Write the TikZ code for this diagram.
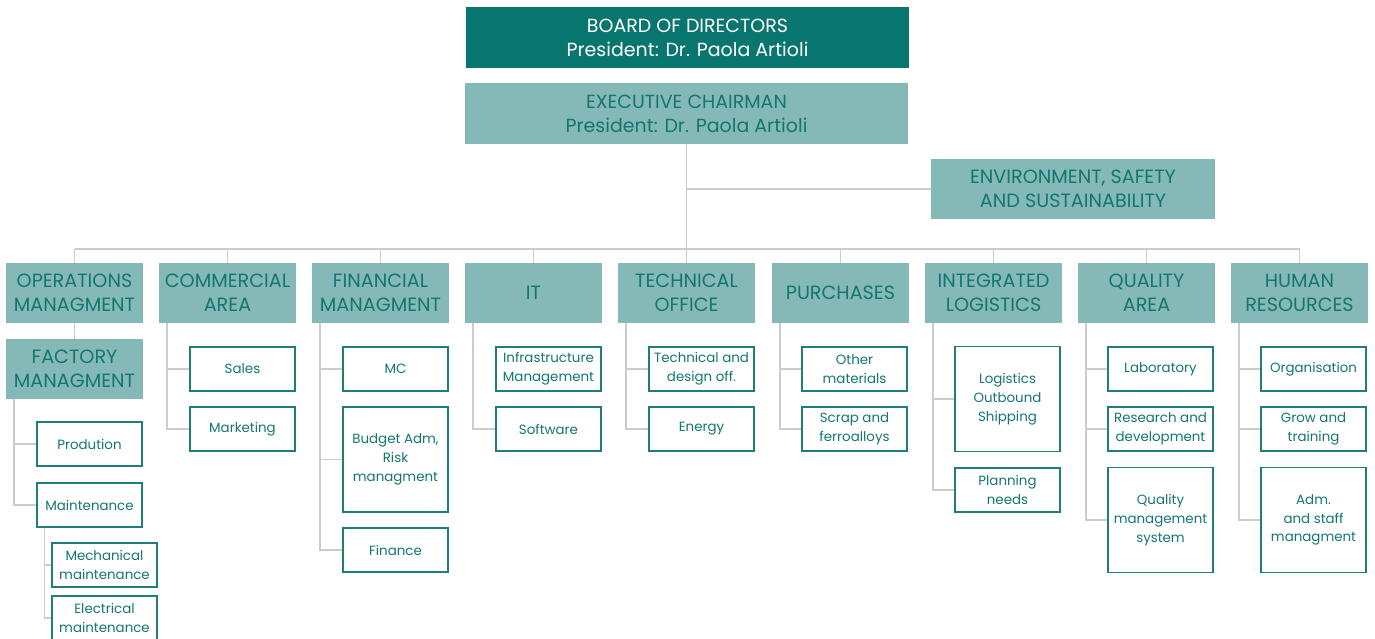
\documentclass[tikz,border=0pt]{standalone}
\usepackage{fontspec}
\setmainfont{Poppins}
\definecolor{boardc}{HTML}{08756F}
\definecolor{headc}{HTML}{85B9B7}
\definecolor{inkc}{HTML}{13776F}
\definecolor{edgec}{HTML}{1F7F78}
\definecolor{linkc}{HTML}{CCCCCC}
\tikzset{
  topbox/.style={fill=boardc, text=white, minimum width=443pt, minimum height=61pt,
    inner sep=0pt, align=center, font=\fontsize{19}{24}\selectfont},
  execbox/.style={topbox, fill=headc, text=inkc},
  headbox/.style={fill=headc, text=inkc, minimum width=137pt, minimum height=60pt,
    inner sep=0pt, align=center, font=\fontsize{19.2}{24}\selectfont},
  subbox/.style={draw=edgec, line width=1.3pt, fill=white, text=inkc,
    minimum width=105pt, minimum height=44pt, inner sep=0pt, align=center,
    font=\fontsize{13.4}{18.8}\selectfont},
  tallbox/.style={subbox, minimum height=105pt},
  link/.style={draw=linkc, line width=1.4pt},
}
\begin{document}
\begin{tikzpicture}[x=1pt, y=-1pt]
\useasboundingbox (0,0) rectangle (1375,638);

% top of the organisation
\node[topbox]  (board) at (687.5,37.5) {BOARD OF DIRECTORS\\President: Dr. Paola Artioli};
\node[execbox] (exec)  at (686.5,113.5) {EXECUTIVE CHAIRMAN\\President: Dr. Paola Artioli};
\node[headbox, minimum width=284pt] (env) at (1073,189) {ENVIRONMENT, SAFETY\\AND SUSTAINABILITY};

% departments
\node[headbox] (ops)  at (74.5,293)   {OPERATIONS\\MANAGMENT};
\node[headbox] (comm) at (227.5,293)  {COMMERCIAL\\AREA};
\node[headbox] (fin)  at (380.5,293)  {FINANCIAL\\MANAGMENT};
\node[headbox] (it)   at (533.5,293)  {IT};
\node[headbox] (tech) at (686.5,293)  {TECHNICAL\\OFFICE};
\node[headbox] (pur)  at (840.5,293)  {PURCHASES};
\node[headbox] (log)  at (993.5,293)  {INTEGRATED\\LOGISTICS};
\node[headbox] (qual) at (1146.5,293) {QUALITY\\AREA};
\node[headbox] (hr)   at (1299.5,293) {HUMAN\\RESOURCES};
\node[headbox] (fact) at (74.5,369)   {FACTORY\\MANAGMENT};

% units
\node[subbox] (prod)  at (89.5,444)  {Prodution};
\node[subbox] (maint) at (89.5,505)  {Maintenance};
\node[subbox] (mech)  at (104.5,565) {Mechanical\\maintenance};
\node[subbox] (elec)  at (104.5,618) {Electrical\\maintenance};

\node[subbox] (sales) at (242.5,369) {Sales};
\node[subbox] (mkt)   at (242.5,429) {Marketing};

\node[subbox]  (mc)     at (395.5,369)   {MC};
\node[tallbox] (budget) at (395.5,459.5) {Budget Adm,\\Risk\\managment};
\node[subbox]  (finance) at (395.5,550)  {Finance};

\node[subbox] (infra) at (548.5,369) {Infrastructure\\Management};
\node[subbox] (soft)  at (548.5,429) {Software};

\node[subbox] (design) at (701.5,369) {Technical and\\design off.};
\node[subbox] (energy) at (701.5,429) {Energy};

\node[subbox] (other) at (854.5,369) {Other\\materials};
\node[subbox] (scrap) at (854.5,429) {Scrap and\\ferroalloys};

\node[tallbox] (ship) at (1007.5,399) {Logistics\\Outbound\\Shipping};
\node[subbox]  (plan) at (1007.5,490) {Planning\\needs};

\node[subbox]  (lab) at (1160.5,369) {Laboratory};
\node[subbox]  (rd)  at (1160.5,429) {Research and\\development};
\node[tallbox] (qms) at (1160.5,520) {Quality\\management\\system};

\node[subbox]  (org)   at (1313.5,369) {Organisation};
\node[subbox]  (grow)  at (1313.5,429) {Grow and\\training};
\node[tallbox] (staff) at (1313.5,520) {Adm.\\and staff\\managment};

% main trunk, side branch and department bus
\draw[link] (exec.south) -- ([yshift=14pt]tech.north);
\draw[link] (exec.south |- env.west) -- (env.west);
\draw[link] ([yshift=14pt]ops.north) -- ([yshift=14pt]hr.north);
\foreach \d in {ops,comm,fin,it,tech,pur,log,qual,hr}
  \draw[link] (\d.north) -- ([yshift=14pt]\d.north);
\draw[link] (ops) -- (fact);

% spines from each department to its units
\foreach \p/\c in {fact/prod, fact/maint, maint/mech, maint/elec,
                   comm/sales, comm/mkt,
                   fin/mc, fin/budget, fin/finance,
                   it/soft,
                   tech/design, tech/energy,
                   pur/other, pur/scrap,
                   log/ship, log/plan,
                   qual/lab, qual/rd, qual/qms,
                   hr/org, hr/grow, hr/staff}
  \draw[link] ([xshift=8pt]\p.south west) |- (\c.west);
\end{tikzpicture}
\end{document}
